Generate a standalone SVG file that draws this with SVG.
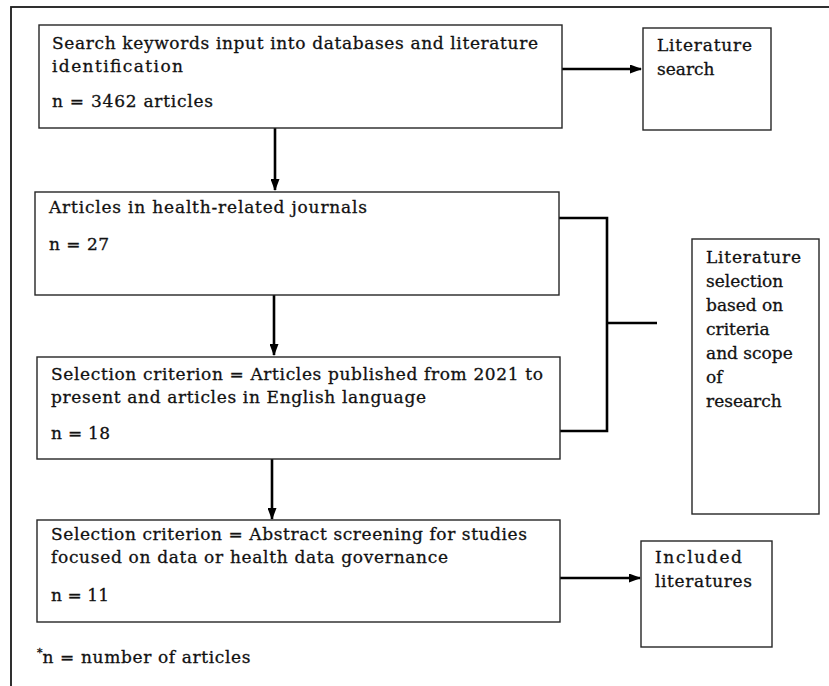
<svg xmlns="http://www.w3.org/2000/svg" width="829" height="686" viewBox="0 0 829 686">
<style>
.box{fill:#fff;stroke:#262626;stroke-width:1.4}
.t{font-family:"DejaVu Serif","Liberation Serif",serif;font-size:17px;fill:#111;stroke:#111;stroke-width:0.3}
.c{stroke:#000;stroke-width:2.6;fill:none}
</style>
<defs>
<marker id="ah" markerUnits="userSpaceOnUse" markerWidth="12" markerHeight="9" refX="11" refY="4.5" orient="auto">
<path d="M0,0 L12,4.5 L0,9 z" fill="#000"/>
</marker>
</defs>
<rect x="0" y="0" width="829" height="686" fill="#fff"/>
<rect x="11" y="7" width="840" height="700" fill="none" stroke="#1a1a1a" stroke-width="1.8"/>
<g id="connectors">
<line class="c" x1="562" y1="69" x2="641" y2="69" marker-end="url(#ah)"/>
<line class="c" x1="275" y1="128" x2="275" y2="190" marker-end="url(#ah)"/>
<line class="c" x1="274" y1="295" x2="274" y2="355" marker-end="url(#ah)"/>
<line class="c" x1="272" y1="459" x2="272" y2="519" marker-end="url(#ah)"/>
<line class="c" x1="560" y1="578" x2="640" y2="578" marker-end="url(#ah)"/>
<polyline class="c" points="559,218 607,218 607,431 560,431"/>
<line class="c" x1="607" y1="323" x2="657" y2="323"/>
</g>
<g id="n1">
<rect class="box" x="39" y="25" width="523" height="103"/>
<text class="t" x="52" y="49" textLength="486">Search keywords input into databases and literature</text>
<text class="t" x="52" y="72" textLength="131">identification</text>
<text class="t" x="52" y="107" textLength="161">n = 3462 articles</text>
</g>
<g id="n2">
<rect class="box" x="643" y="28" width="128" height="102"/>
<text class="t" x="657" y="51" textLength="95">Literature</text>
<text class="t" x="657" y="75">search</text>
</g>
<g id="n3">
<rect class="box" x="35" y="192" width="524" height="103"/>
<text class="t" x="49" y="213" textLength="318">Articles in health-related journals</text>
<text class="t" x="49" y="250" textLength="60">n = 27</text>
</g>
<g id="n4">
<rect class="box" x="37" y="357" width="523" height="102"/>
<text class="t" x="51" y="380" textLength="492">Selection criterion = Articles published from 2021 to</text>
<text class="t" x="51" y="403" textLength="375">present and articles in English language</text>
<text class="t" x="51" y="439" textLength="59">n = 18</text>
</g>
<g id="n5">
<rect class="box" x="692" y="239" width="127" height="275"/>
<text class="t" x="706" y="263" textLength="95">Literature</text>
<text class="t" x="706" y="287">selection</text>
<text class="t" x="706" y="311">based on</text>
<text class="t" x="706" y="335">criteria</text>
<text class="t" x="706" y="359">and scope</text>
<text class="t" x="706" y="383">of</text>
<text class="t" x="706" y="407">research</text>
</g>
<g id="n6">
<rect class="box" x="37" y="520" width="523" height="102"/>
<text class="t" x="51" y="540" textLength="476">Selection criterion = Abstract screening for studies</text>
<text class="t" x="51" y="563" textLength="397">focused on data or health data governance</text>
<text class="t" x="51" y="601" textLength="58">n = 11</text>
</g>
<g id="n7">
<rect class="box" x="641" y="541" width="131" height="106"/>
<text class="t" x="655" y="563" textLength="87">Included</text>
<text class="t" x="655" y="587" textLength="97">literatures</text>
</g>
<g id="footnote">
<text class="t" x="37" y="663"><tspan font-size="11" dy="-7">*</tspan><tspan dy="7" textLength="208">n = number of articles</tspan></text>
</g>
</svg>
